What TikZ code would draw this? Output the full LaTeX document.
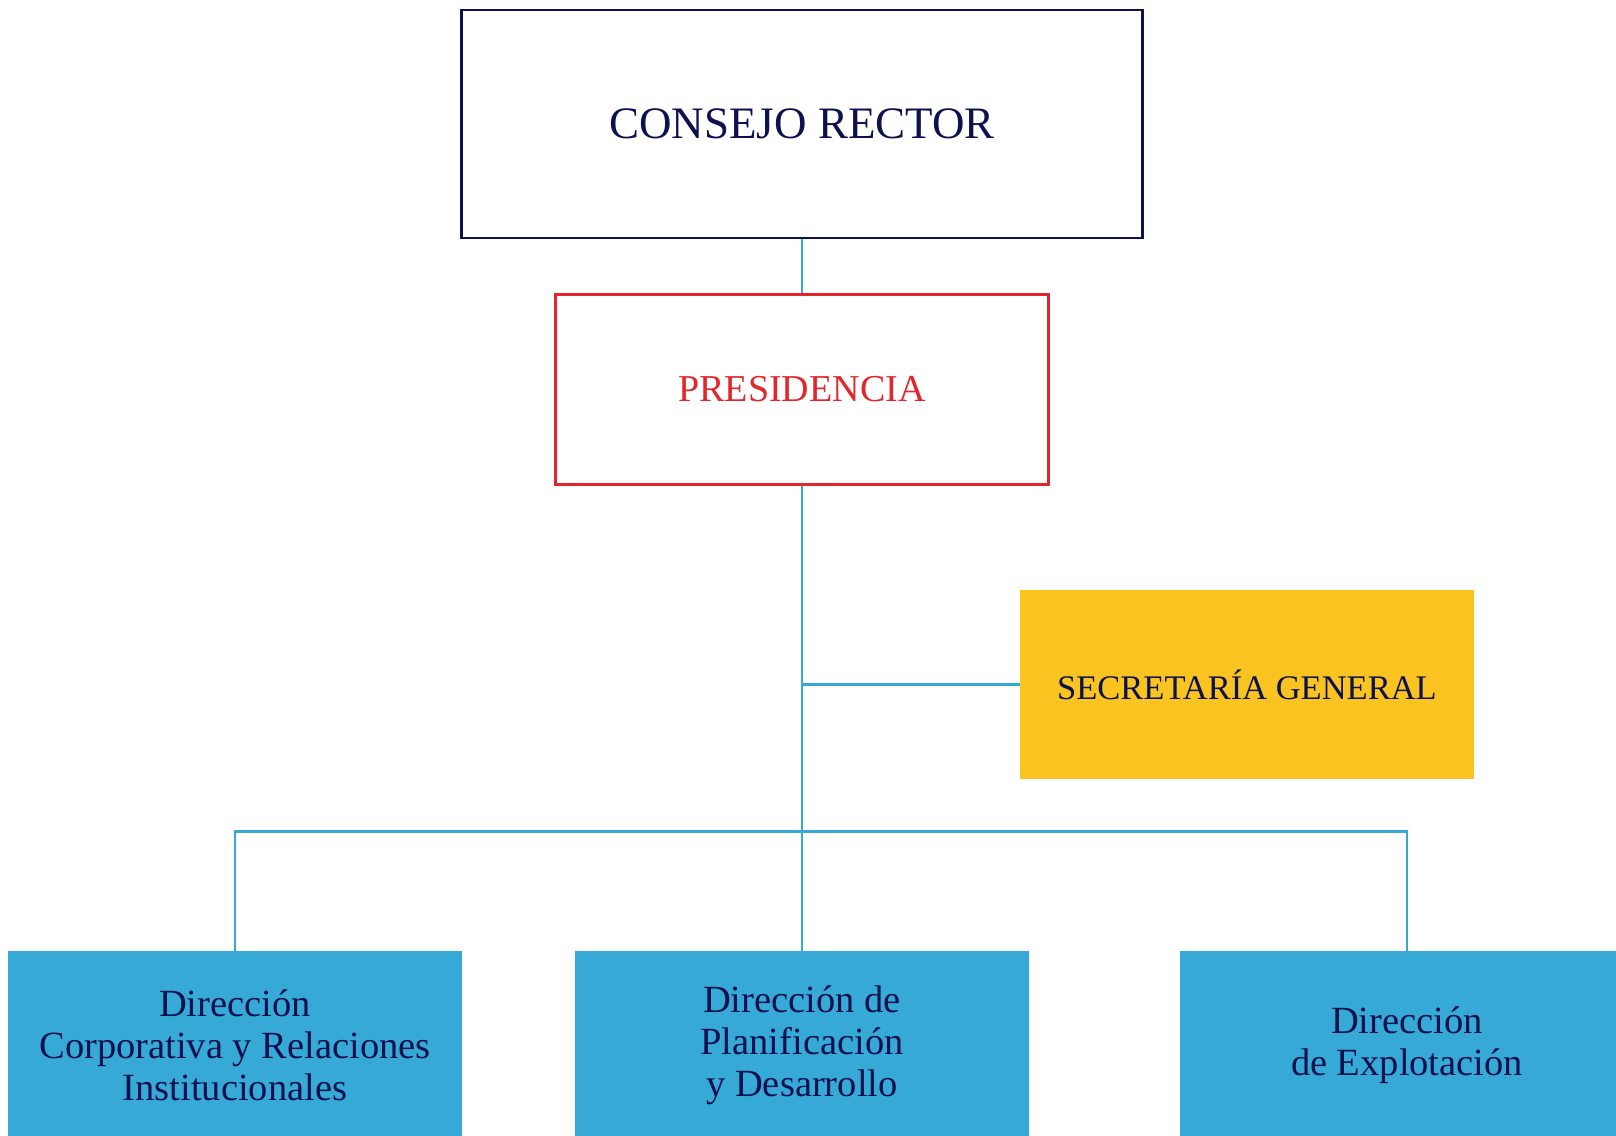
\documentclass[tikz,border=0pt]{standalone}
\usepackage{fontspec}
\setmainfont{Liberation Serif}
\definecolor{navy}{HTML}{0D1150}
\definecolor{redc}{HTML}{E3262B}
\definecolor{yel}{HTML}{F9C41F}
\definecolor{blu}{HTML}{36A9D6}
\tikzset{
  box/.style={rectangle, inner sep=0pt, align=center},
  consejo/.style={box, draw=navy, line width=2.8pt, fill=white, text=navy, minimum width=681pt, minimum height=228pt, font=\fontsize{45}{50}\selectfont},
  pres/.style={box, draw=redc, line width=2.4pt, fill=white, text=redc, minimum width=493pt, minimum height=190pt, font=\fontsize{38}{42}\selectfont},
  secre/.style={box, fill=yel, text=navy, minimum width=454pt, minimum height=189pt, font=\fontsize{34.5}{40}\selectfont},
  dir/.style={box, fill=blu, text=navy, minimum width=454pt, minimum height=189pt, font=\fontsize{38.5}{42}\selectfont},
  conn/.style={draw=blu, line width=2.4pt}
}
\begin{document}
\begin{tikzpicture}[x=1pt,y=-1pt]
\useasboundingbox (0,0) rectangle (1616,1135);
\fill[white] (0,0) rectangle (1616,1135);
\node[consejo] (cr) at (802,124) {CONSEJO RECTOR};
\node[pres] (pr) at (802,389.5) {PRESIDENCIA};
\node[secre] (sg) at (1247,684.5) {SECRETARÍA GENERAL};
\node[dir] (d1) at (235,1045.5) {Dirección\\Corporativa y Relaciones\\Institucionales};
\node[dir] (d2) at (802,1045.5) {Dirección de\\Planificación\\y Desarrollo};
\node[dir] (d3) at (1407,1045.5) {Dirección\\de Explotación};
\coordinate (sgj) at (802,684.5);
\coordinate (busl) at (235,831.5);
\coordinate (busr) at (1407,831.5);
\draw[conn] (cr.south) -- (pr.north);
\draw[conn] (pr.south) -- (d2.north);
\draw[conn] (sgj) -- (sg.west);
\draw[conn] (d1.north) -- (busl) -- (busr) -- (d3.north);
\end{tikzpicture}
\end{document}
